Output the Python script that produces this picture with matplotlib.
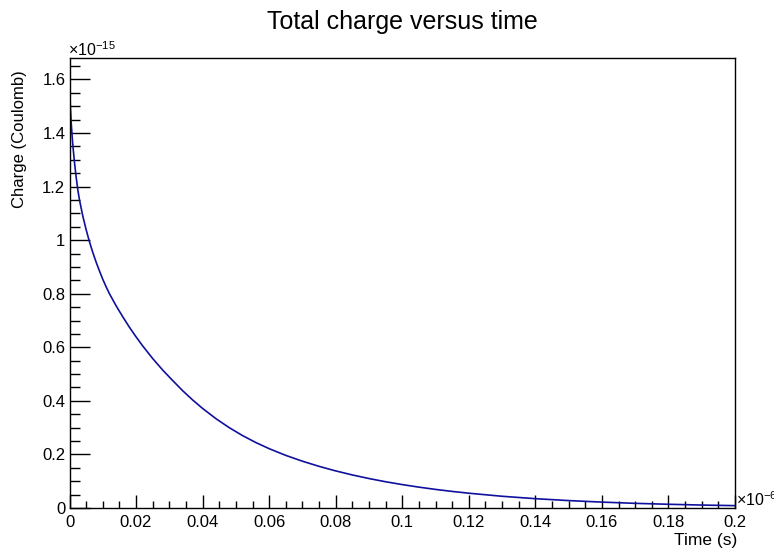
import matplotlib
matplotlib.use("Agg")
import matplotlib.pyplot as plt
from matplotlib.ticker import MultipleLocator, FuncFormatter

plt.rcParams['font.family'] = ['Liberation Sans', 'DejaVu Sans']
plt.rcParams['mathtext.fontset'] = 'custom'
plt.rcParams['mathtext.rm'] = 'Liberation Sans'
plt.rcParams['mathtext.it'] = 'Liberation Sans'

# Time in units of 1e-6 s, charge in units of 1e-15 C
time_us = [0.0, 0.00025, 0.0005, 0.00075, 0.001, 0.0015, 0.002, 0.0025,
           0.003, 0.004, 0.005, 0.006, 0.007, 0.008, 0.009, 0.010,
           0.011, 0.012, 0.014, 0.016, 0.018, 0.020, 0.022, 0.025,
           0.028, 0.031, 0.034, 0.037, 0.040, 0.044, 0.048, 0.052,
           0.056, 0.060, 0.065, 0.070, 0.075, 0.080, 0.085, 0.090,
           0.095, 0.100, 0.105, 0.110, 0.115, 0.120, 0.130, 0.140,
           0.150, 0.160, 0.170, 0.180, 0.190, 0.200]
charge_fC = [1.600, 1.500, 1.440, 1.395, 1.355, 1.290, 1.235, 1.188,
             1.150, 1.090, 1.039, 0.994, 0.954, 0.918, 0.885, 0.854,
             0.826, 0.800, 0.755, 0.714, 0.675, 0.639, 0.605, 0.558,
             0.515, 0.476, 0.438, 0.4034, 0.3717, 0.3336, 0.3000, 0.2704,
             0.2444, 0.2215, 0.1964, 0.1747, 0.1555, 0.1385, 0.1234, 0.1100,
             0.0980, 0.0874, 0.0779, 0.0694, 0.0619, 0.0552, 0.0438, 0.0348,
             0.0277, 0.0220, 0.0174, 0.0139, 0.0110, 0.0088]

title = "Total charge versus time"
xlabel = "Time (s)"
ylabel = "Charge (Coulomb)"

W, H = 774, 551
fig = plt.figure(figsize=(W / 100, H / 100), dpi=100)
left, right, top, bottom = 69.5, 735, 58, 508
ax = fig.add_axes([left / W, 1 - bottom / H, (right - left) / W, (bottom - top) / H])

ax.plot(time_us, charge_fC, color='#10109e', lw=1.2,
        solid_joinstyle='round', solid_capstyle='round')

ax.set_xlim(0, 0.2)
ax.set_ylim(0, 1.68)

for s in ax.spines.values():
    s.set_linewidth(1.0)
    s.set_color('black')

ax.xaxis.set_major_locator(MultipleLocator(0.02))
ax.xaxis.set_minor_locator(MultipleLocator(0.005))
ax.yaxis.set_major_locator(MultipleLocator(0.2))
ax.yaxis.set_minor_locator(MultipleLocator(0.05))
fmt = FuncFormatter(lambda v, p: f"{round(v, 6):g}")
ax.xaxis.set_major_formatter(fmt)
ax.yaxis.set_major_formatter(fmt)

ax.tick_params(axis='both', which='both', direction='in', top=False, right=False,
               width=1.0, colors='black', labelsize=12)
ax.tick_params(axis='x', which='major', length=9.5, pad=5)
ax.tick_params(axis='x', which='minor', length=4.8)
ax.tick_params(axis='y', which='major', length=14.5, pad=3)
ax.tick_params(axis='y', which='minor', length=7.2)

fig.text(402 / W, 1 - 22 / H, title, ha='center', va='center', fontsize=18)
fig.text(737 / W, 1 - 540 / H, xlabel, ha='right', va='center', fontsize=12.5)
fig.text(20 / W, 1 - 70 / H, ylabel, ha='center', va='top', rotation=90, fontsize=12)

fig.text(68 / W, 1 - 50 / H, r'$\times$10$^{-15}$', ha='left', va='center', fontsize=11.5)
fig.text(736 / W, 1 - 500 / H, r'$\times$10$^{-6}$', ha='left', va='center', fontsize=11.5)

fig.savefig("out.png", dpi=100)
